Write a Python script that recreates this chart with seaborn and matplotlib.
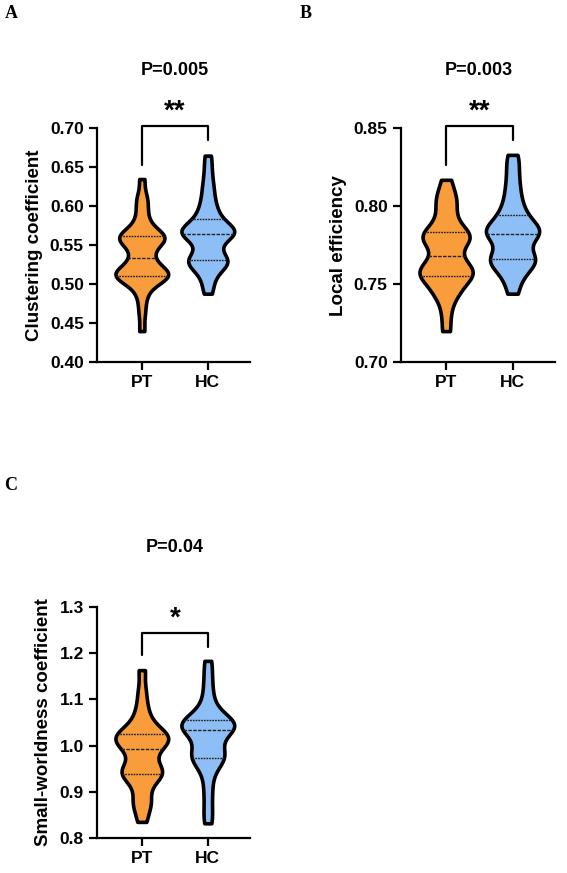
import matplotlib
matplotlib.use("Agg")
import matplotlib.pyplot as plt
import seaborn as sns
import pandas as pd

# --- DATA ---
groups = ["PT", "HC"]
colors = ["#F89C3C", "#8DBEF5"]

pt_clust = [0.440, 0.462, 0.478, 0.490, 0.498, 0.503, 0.506, 0.508, 0.510, 0.511,
            0.512, 0.513, 0.514, 0.515, 0.517, 0.520, 0.523, 0.528, 0.532, 0.536,
            0.543, 0.548, 0.552, 0.555, 0.557, 0.559, 0.560, 0.561, 0.562, 0.564,
            0.567, 0.571, 0.578, 0.586, 0.596, 0.606, 0.614, 0.635]
hc_clust = [0.488, 0.500, 0.510, 0.518, 0.522, 0.525, 0.528, 0.530, 0.531, 0.533,
            0.536, 0.542, 0.549, 0.555, 0.559, 0.562, 0.564, 0.566, 0.567, 0.568,
            0.569, 0.571, 0.573, 0.576, 0.580, 0.585, 0.590, 0.596, 0.603, 0.612,
            0.622, 0.633, 0.648, 0.665]

pt_loc = [0.720, 0.731, 0.740, 0.744, 0.747, 0.750, 0.753, 0.755, 0.756, 0.757,
          0.758, 0.760, 0.762, 0.763, 0.766, 0.770, 0.774, 0.777, 0.779, 0.780,
          0.781, 0.782, 0.784, 0.787, 0.791, 0.796, 0.801, 0.805, 0.809, 0.817]
hc_loc = [0.744, 0.752, 0.757, 0.760, 0.763, 0.765, 0.766, 0.767, 0.769, 0.773,
          0.777, 0.780, 0.782, 0.783, 0.784, 0.785, 0.787, 0.789, 0.792, 0.795,
          0.799, 0.804, 0.810, 0.817, 0.825, 0.833]

pt_sw = [0.835, 0.860, 0.876, 0.884, 0.905, 0.922, 0.932, 0.937, 0.941, 0.944,
         0.948, 0.955, 0.966, 0.980, 0.990, 0.997, 1.003, 1.008, 1.012, 1.016,
         1.019, 1.022, 1.026, 1.031, 1.040, 1.052, 1.068, 1.090, 1.120, 1.163]
hc_sw = [0.832, 0.862, 0.895, 0.925, 0.950, 0.963, 0.970, 0.975, 0.980, 0.987,
         0.996, 1.008, 1.020, 1.032, 1.034, 1.037, 1.040, 1.043, 1.046, 1.050,
         1.054, 1.058, 1.065, 1.077, 1.095, 1.120, 1.150, 1.183]

p_labels = ["P=0.005", "P=0.003", "P=0.04"]
stars = ["**", "**", "*"]
ylabels = ["Clustering coefficient", "Local efficiency", "Small-worldness coefficient"]
yticks = [[0.40, 0.45, 0.50, 0.55, 0.60, 0.65, 0.70],
          [0.70, 0.75, 0.80, 0.85],
          [0.8, 0.9, 1.0, 1.1, 1.2, 1.3]]
ytick_fmt = ["{:.2f}", "{:.2f}", "{:.1f}"]
panel_letters = ["A", "B", "C"]


def make_df(pt, hc):
    return pd.DataFrame({"group": ["PT"] * len(pt) + ["HC"] * len(hc),
                         "value": pt + hc})


datasets = [make_df(pt_clust, hc_clust), make_df(pt_loc, hc_loc), make_df(pt_sw, hc_sw)]

# --- STYLE ---
sns.set_style("ticks")
plt.rcParams["font.family"] = ["Liberation Sans", "DejaVu Sans"]
plt.rcParams["font.weight"] = "bold"
for k in ["text.color", "axes.labelcolor", "xtick.color", "ytick.color", "axes.edgecolor"]:
    plt.rcParams[k] = "black"

fig = plt.figure(figsize=(5.67, 8.73), dpi=100)

# [left, bottom, width, height], bracket/title geometry in axes fraction
layout = [
    dict(rect=[0.171, 0.585, 0.270, 0.268], title_y=1.248, star_y=1.07,
         br_y=1.008, leg=(0.842, 0.949)),
    dict(rect=[0.707, 0.585, 0.272, 0.268], title_y=1.248, star_y=1.07,
         br_y=1.008, leg=(0.842, 0.949)),
    dict(rect=[0.171, 0.040, 0.270, 0.265], title_y=1.255, star_y=0.95,
         br_y=0.887, leg=(0.792, 0.827)),
]
letter_pos = [(0.008, 0.984), (0.528, 0.984), (0.008, 0.444)]

for i, (df, lay) in enumerate(zip(datasets, layout)):
    ax = fig.add_axes(lay["rect"])
    sns.violinplot(data=df, x="group", y="value", hue="group", order=groups,
                   palette=colors, saturation=1, legend=False, cut=0, bw_adjust=0.5,
                   inner="quart", linewidth=2.6, linecolor="black", width=0.8,
                   inner_kws=dict(linewidth=1.0, color="#222222"), ax=ax)
    for coll in ax.collections:
        coll.set_joinstyle("round")
    ax.set_xlim(-0.68, 1.64)
    ax.set_ylim(yticks[i][0], yticks[i][-1])
    ax.set_yticks(yticks[i])
    ax.set_yticklabels([ytick_fmt[i].format(t) for t in yticks[i]])
    ax.set_xlabel("")
    ax.set_ylabel(ylabels[i], fontsize=13.5, fontweight="bold", labelpad=5)
    sns.despine(ax=ax)
    for s in ["left", "bottom"]:
        ax.spines[s].set_linewidth(1.6)
    ax.tick_params(axis="both", width=1.6, length=6, labelsize=12.5)
    for lab in ax.get_xticklabels() + ax.get_yticklabels():
        lab.set_fontweight("bold")

    tr = ax.get_xaxis_transform()
    ax.text(0.5, lay["title_y"], p_labels[i], transform=tr, ha="center",
            va="center", fontsize=13, fontweight="bold")
    ax.plot([0, 0, 1, 1], [lay["leg"][0], lay["br_y"], lay["br_y"], lay["leg"][1]],
            color="black", lw=1.6, transform=tr, clip_on=False)
    ax.text(0.5, lay["star_y"], stars[i], transform=tr, ha="center", va="center",
            fontsize=20, fontweight="bold")

    fig.text(letter_pos[i][0], letter_pos[i][1], panel_letters[i],
             family="Liberation Serif", fontweight="bold", fontsize=13,
             ha="left", va="center")

fig.savefig("out.png", dpi=100)
